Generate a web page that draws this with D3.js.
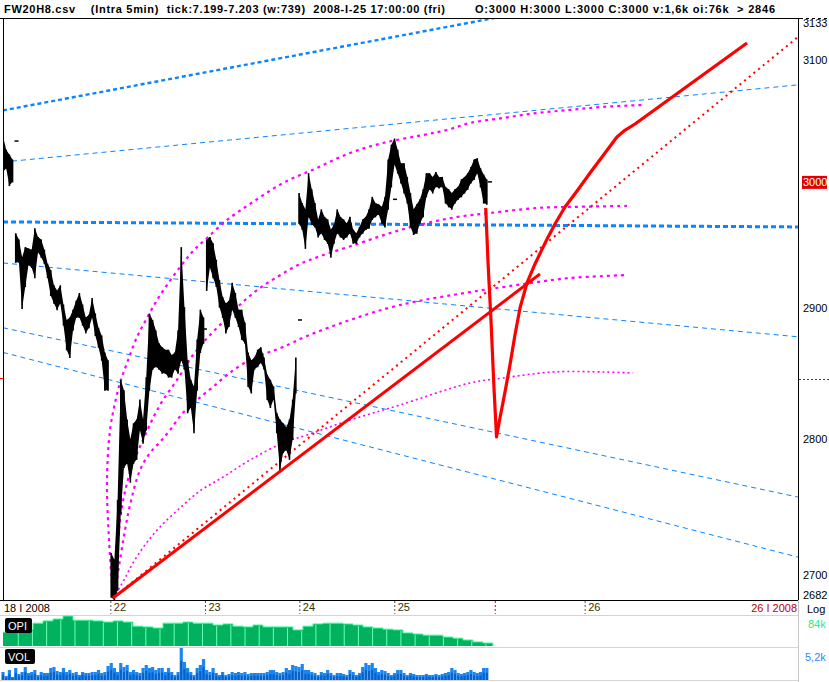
<!DOCTYPE html>
<html><head><meta charset="utf-8">
<script src="https://cdn.jsdelivr.net/npm/d3@7"></script>
<style>
body{margin:0;background:#fff}
svg{display:block}
text{font-family:"Liberation Sans",Arial,sans-serif}
</style>
</head><body>
<svg id="c" width="829" height="682"></svg>
<script>
// ---------------- DATA ----------------
const headerLeft = "FW20H8.csv    (Intra 5min)  tick:7.199-7.203 (w:739)  2008-I-25 17:00:00 (fri)";
const headerRight = "O:3000 H:3000 L:3000 C:3000 v:1,6k oi:76k  > 2846";
// bars: time origin (session days, 0 = start of 22 I) and step of one sample
const barT0 = -1.131, barStep = 1 / 30;
const priceHigh = [3037,3026,3022,3018,
 2959,2954,2940,2948,2947,2946,2963,2956,2954,2946,2935,2930,2918,2914,2918,2903,2891,2893,2899,2906,2912,2903,2893,2895,2908,2896,2885,2879,2866,2860,
 2716,2711,2755,2845,2837,2815,2800,2812,2815,2830,2815,2847,2896,2891,2883,2873,2870,2868,2868,2864,2866,2883,2948,2901,2860,2845,2840,2876,2899,2893,
 2954,2956,2951,2938,2922,2909,2904,2906,2920,2912,2899,2899,2889,2866,2860,2862,2868,2870,2862,2849,2845,2840,2820,2815,2812,2809,2815,2830,2862,
 2991,2983,2978,3007,2994,2983,2970,2978,2972,2970,2962,2966,2978,2972,2970,2967,2972,2962,2959,2964,2970,2972,2978,2988,2983,2982,2980,2988,3018,3030,3035,
 3026,3015,3015,3004,2991,2978,2982,2986,2994,3007,3007,3004,3008,3004,3004,2996,2994,2991,2994,2996,3002,3004,3007,3012,3018,3019,3011,3006,3002];
const priceLow = [3008,3011,2997,3000,
 2936,2936,2900,2917,2934,2932,2924,2944,2940,2935,2924,2910,2904,2899,2904,2887,2868,2862,2883,2893,2893,2887,2881,2885,2893,2879,2870,2860,2837,2837,
 2684,2682,2689,2745,2779,2782,2768,2782,2785,2807,2797,2807,2837,2853,2855,2853,2850,2850,2847,2847,2853,2850,2860,2853,2820,2824,2805,2837,2866,2873,
 2914,2932,2924,2917,2901,2893,2881,2886,2899,2893,2886,2876,2873,2840,2835,2853,2855,2858,2853,2830,2824,2830,2805,2777,2790,2792,2785,2800,2835,
 2967,2962,2947,2972,2966,2964,2956,2959,2954,2951,2940,2951,2959,2956,2954,2956,2959,2951,2951,2956,2959,2962,2963,2970,2972,2974,2967,2964,2978,2996,3014,
 3007,2999,2991,2983,2964,2958,2959,2967,2972,2988,2994,2991,2996,2995,2996,2983,2980,2978,2983,2986,2988,2991,2994,2999,3002,3007,2996,2983,2982];
// indices where a price gap opens a new session block
const sessionBreaks = [0, 4, 34, 64, 93, 153];
const volume = [1300,650,1630,490,1950,980,1300,2110,1140,1300,
 1630,810,1300,1140,1140,1950,2110,1460,1300,1950,
 1300,1630,1140,1300,810,1300,1140,1140,1300,1300,
 1630,1140,1300,2280,2760,1950,1300,2760,2110,2440,
 1300,1630,1300,1140,1950,2440,1950,2110,1630,1950,
 1950,1300,1950,1300,810,1300,5200,2930,1950,1300,
 810,1950,2440,3410,1630,1300,1950,1140,810,1300,
 810,980,1300,1140,1300,1140,1300,980,1140,1140,
 1140,1140,1140,1300,1630,1630,1300,1140,1300,1950,
 1630,2440,2280,2110,2600,1630,1630,1300,1140,810,
 1300,1140,1630,1140,810,1140,1140,980,810,1630,
 1300,810,1140,2110,2760,2440,2760,1950,1300,1630,
 1460,1140,810,1140,1630,1630,1140,810,1140,980,
 810,810,810,980,810,810,980,810,980,1140,
 1300,1950,1630,1140,980,1140,1300,1630,1300,1140,
 1300,1950,1950];
const opiT0 = -1.131, opiStep = 0.1047;
const openInterest = [79.7,79.7,80.3,82.1,82.7,83.2,84.0,82.9,82.9,82.7,82.4,82.7,82.4,81.3,81.1,80.8,82.1,82.1,82.4,82.1,
 82.1,81.6,81.9,81.3,81.1,81.6,81.1,81.1,81.1,80.3,81.3,81.9,82.1,82.1,81.9,81.6,81.1,80.8,80.5,80.3,
 79.5,79.2,78.9,78.9,78.4,78.1,77.6,77.1,76.8,76.0];
const settleT = [-1.010, 0.963, 1.958, 2.953, 3.948];
const settleP = [3033, 2884, 2891, 2986, 3000];
const priceTicks = [3133, 3100, 3000, 2900, 2800, 2700, 2682];
const dayLabels = ["22", "23", "24", "25", "26"];
const dayStarts = [-0.007, 0.984, 1.972, 2.966, 4.960];
const lastBarT = 4.024;
const markPrice = 2846;
// trend lines [t1, p1, t2, p2]
const blueThick = [[-1.131, 3058, 7.194, 3183], [-1.131, 2968, 7.194, 2964]];
const blueThin = [[-1.131, 3016, 7.194, 3079], [-1.131, 2935.5, 7.194, 2878], [-1.131, 2885, 7.194, 2757], [-1.131, 2866, 7.194, 2713]];
const redSolid = [0.021, 2683.4, 4.492, 2926.8];
const redDotted = [0.021, 2683.4, 7.194, 3118.8];
// projected path
const projT = [3.924,3.948,3.979,4.010,4.037,4.073,4.126,4.178,4.230,4.283,4.356,4.440,4.545,4.649,4.754,4.880,5.016,5.173,5.298,5.372,5.487,6.660];
const projP = [2979.1,2936.2,2891.0,2839.6,2801.8,2816.0,2835.8,2856.4,2879.4,2900.3,2919.8,2934.7,2951.2,2966.3,2979.9,2992.7,3007.1,3023.3,3036.3,3041.2,3046.9,3113.8];
// magenta arcs
const arcA = [[0.021,2684.2],[-0.021,2725.5],[-0.042,2769.6],[-0.010,2807.0],[0.042,2827.4],[0.094,2842.6],[0.168,2857.9],[0.272,2877.8],[0.377,2892.5],[0.482,2906.5],[0.586,2918.2],[0.723,2932.3],[0.859,2944.9],[1.005,2955.2],[1.215,2969.5],[1.487,2983.9],[1.801,2999.1],[2.157,3011.2],[2.503,3023.3],[2.848,3031.4],[3.267,3037.9],[3.518,3042.0],[3.759,3047.7],[4.105,3051.8],[4.461,3055.9],[4.806,3058.4],[5.152,3060.9],[5.592,3062.5]];
const arcB = [[0.031,2687.8],[0.063,2718.2],[0.115,2749.7],[0.168,2767.4],[0.230,2782.3],[0.335,2799.5],[0.440,2816.0],[0.545,2829.7],[0.691,2844.9],[0.859,2864.0],[1.037,2879.4],[1.215,2892.5],[1.382,2905.0],[1.560,2915.9],[1.770,2925.9],[1.979,2934.7],[2.188,2940.8],[2.576,2950.4],[2.921,2959.1],[3.267,2966.3],[3.623,2971.9],[3.969,2975.1],[4.461,2979.1],[4.806,2979.9],[5.403,2980.7]];
const arcC = [[0.042,2687.8],[0.094,2710.9],[0.147,2732.8],[0.199,2751.1],[0.304,2777.1],[0.408,2789.8],[0.513,2798.0],[0.618,2807.0],[0.754,2820.0],[0.901,2829.7],[1.068,2839.6],[1.246,2850.5],[1.455,2860.2],[1.634,2865.6],[1.801,2870.1],[2.052,2878.6],[2.503,2891.0],[3.026,2902.6],[3.759,2912.7],[4.105,2916.6],[4.461,2920.5],[4.806,2923.7],[5.403,2926.0]];
const arcD = [[0.052,2686.3],[0.147,2697.9],[0.230,2708.7],[0.356,2721.9],[0.513,2735.0],[0.723,2749.0],[0.932,2761.6],[1.173,2771.8],[1.455,2784.5],[1.801,2797.3],[2.052,2803.3],[2.503,2814.5],[3.026,2825.9],[3.759,2842.6],[4.105,2846.4],[4.628,2851.0],[5.152,2851.0],[5.466,2850.2]];

// ---------------- LAYOUT ----------------
const L = 3, R = 798, T = 18, B = 600;
const svg = d3.select("#c");
const x = d3.scaleLinear().domain([-1.131, 7.194]).range([L, R]);
const y = d3.scaleLog().domain([2682, 3133]).range([B, 20]);
const opiY = d3.scaleLinear().domain([76, 84]).range([646, 616]);
const volY = d3.scaleLinear().domain([0, 5200]).range([680, 648]);
const barX = i => x(barT0 + i * barStep);

svg.append("defs").append("clipPath").attr("id", "plot")
  .append("rect").attr("x", L).attr("y", T + 1).attr("width", R - L).attr("height", B - T - 1);

// header
svg.append("text").attr("x", 4).attr("y", 13).attr("font-size", 11).attr("font-weight", "bold")
  .style("white-space", "pre").attr("textLength", 441).attr("lengthAdjust", "spacing").text(headerLeft);
svg.append("text").attr("x", 475).attr("y", 13).attr("font-size", 11).attr("font-weight", "bold")
  .style("white-space", "pre").attr("textLength", 300).attr("lengthAdjust", "spacing").text(headerRight);
svg.append("line").attr("x1", 0).attr("x2", 800).attr("y1", T + 0.5).attr("y2", T + 0.5).attr("stroke", "#000");
svg.append("line").attr("x1", 800).attr("x2", 829).attr("y1", T + 0.5).attr("y2", T + 0.5).attr("stroke", "#000").attr("stroke-dasharray", "3,3");

const plot = svg.append("g").attr("clip-path", "url(#plot)");
const seg = (g, d) => g.append("line").attr("x1", x(d[0])).attr("y1", y(d[1])).attr("x2", x(d[2])).attr("y2", y(d[3]));

// blue trend lines
blueThin.forEach(d => seg(plot, d).attr("stroke", "#0a84ff").attr("stroke-width", 1).attr("stroke-dasharray", "5,4"));
seg(plot, blueThick[0]).attr("stroke", "#0a84ff").attr("stroke-width", 2.4).attr("stroke-dasharray", "4,3");
seg(plot, blueThick[1]).attr("stroke", "#0a84ff").attr("stroke-width", 3).attr("stroke-dasharray", "5,3");

// magenta arcs
const arcLine = d3.line().x(d => x(d[0])).y(d => y(d[1])).curve(d3.curveCatmullRom);
[arcA, arcB, arcC].forEach(a => plot.append("path").attr("d", arcLine(a)).attr("fill", "none")
  .attr("stroke", "#ff00ff").attr("stroke-width", 2.2).attr("stroke-dasharray", "3,4"));
plot.append("path").attr("d", arcLine(arcD)).attr("fill", "none")
  .attr("stroke", "#ff00ff").attr("stroke-width", 1.6).attr("stroke-dasharray", "2,3");

// red dotted
seg(plot, redDotted).attr("stroke", "#ff0000").attr("stroke-width", 2).attr("stroke-dasharray", "2,4");

// price: band per session block + individual high-low bars
const band = d3.area().x(i => barX(i)).y0(i => y(priceLow[i])).y1(i => y(priceHigh[i]));
for (let s = 0; s < sessionBreaks.length - 1; s++) {
  plot.append("path").attr("d", band(d3.range(sessionBreaks[s], sessionBreaks[s + 1])))
    .attr("fill", "#000");
}
plot.append("g").selectAll("line").data(priceHigh).join("line")
  .attr("x1", (d, i) => barX(i)).attr("x2", (d, i) => barX(i))
  .attr("y1", d => y(d)).attr("y2", (d, i) => y(priceLow[i]) + 0.5)
  .attr("stroke", "#000").attr("stroke-width", 1.6);
plot.append("g").selectAll("line").data(settleT).join("line")
  .attr("x1", d => x(d)).attr("x2", d => x(d) + 4)
  .attr("y1", (d, i) => y(settleP[i])).attr("y2", (d, i) => y(settleP[i]))
  .attr("stroke", "#000").attr("stroke-width", 1.5);

// red thick
seg(plot, redSolid).attr("stroke", "#ff0000").attr("stroke-width", 3);
plot.append("path").attr("d", d3.line().x(d => x(d)).y((d, i) => y(projP[i]))(projT))
  .attr("fill", "none").attr("stroke", "#ff0000").attr("stroke-width", 3.2).attr("stroke-linejoin", "round");

// frame
svg.append("line").attr("x1", L + 0.5).attr("x2", L + 0.5).attr("y1", T).attr("y2", B).attr("stroke", "#000");
svg.append("line").attr("x1", 0).attr("x2", R + 1).attr("y1", B + 0.5).attr("y2", B + 0.5).attr("stroke", "#000");
svg.append("line").attr("x1", R + 0.5).attr("x2", R + 0.5).attr("y1", T).attr("y2", B).attr("stroke", "#000");
svg.append("line").attr("x1", R + 0.5).attr("x2", R + 0.5).attr("y1", B).attr("y2", 682).attr("stroke", "#c8c8c8");
[615.5, 647.5, 680.5].forEach(v => svg.append("line").attr("x1", 0).attr("x2", R).attr("y1", v).attr("y2", v).attr("stroke", "#d4d4d4"));

// marker price
svg.append("line").attr("x1", 0).attr("x2", 3).attr("y1", y(markPrice)).attr("y2", y(markPrice)).attr("stroke", "#ff0000");
svg.append("line").attr("x1", R + 1).attr("x2", 829).attr("y1", Math.round(y(markPrice)) + 0.5).attr("y2", Math.round(y(markPrice)) + 0.5)
  .attr("stroke", "#e00000").attr("stroke-dasharray", "2,2");

// right price axis
const yAxis = svg.append("g").attr("transform", `translate(${R + 4},0)`)
  .call(d3.axisRight(y).tickValues(priceTicks).tickSize(0).tickPadding(0).tickFormat(d3.format("d")));
yAxis.select(".domain").remove();
yAxis.selectAll(".tick text").attr("font-size", 11).attr("font-family", "Liberation Sans, Arial, sans-serif")
  .attr("fill", "#000").attr("x", 1);
yAxis.selectAll(".tick").filter(d => d === 3133).select("text").attr("dy", "0.95em").attr("y", -y(3133) + 16);
yAxis.selectAll(".tick").filter(d => d === 2682).select("text").attr("y", -5);
const t3000 = yAxis.selectAll(".tick").filter(d => d === 3000);
t3000.insert("rect", "text").attr("x", 0).attr("y", -6.5).attr("width", 25).attr("height", 13).attr("fill", "#e00000");
t3000.select("text").attr("fill", "#fff");

// date axis
const xAxis = svg.append("g").attr("transform", `translate(0,${B + 1})`)
  .call(d3.axisBottom(x).tickValues(dayStarts).tickSize(13).tickFormat((d, i) => dayLabels[i]));
xAxis.select(".domain").remove();
xAxis.selectAll(".tick line").attr("stroke", "#555").attr("stroke-dasharray", "2,2");
xAxis.selectAll(".tick text").attr("font-size", 11).attr("font-family", "Liberation Sans, Arial, sans-serif")
  .attr("fill", "#333300").attr("text-anchor", "start").attr("x", 3).attr("y", 2).attr("dy", "0.71em");
svg.append("line").attr("x1", x(lastBarT)).attr("x2", x(lastBarT)).attr("y1", B + 1).attr("y2", B + 14)
  .attr("stroke", "#e00000").attr("stroke-dasharray", "2,2");
svg.append("text").attr("x", 4).attr("y", 612).attr("font-size", 11).attr("fill", "#000").text("18 I 2008");
svg.append("text").attr("x", 797).attr("y", 612).attr("font-size", 11).attr("fill", "#c00000").attr("text-anchor", "end").text("26 I 2008");
svg.append("text").attr("x", 807).attr("y", 613).attr("font-size", 11).attr("fill", "#000").text("Log");

// OPI panel
const opiArea = d3.area().x((d, i) => x(opiT0 + i * opiStep)).y0(646).y1(d => opiY(d)).curve(d3.curveStepAfter);
svg.append("path").attr("d", opiArea(openInterest)).attr("fill", "#00b25e");
svg.append("path").attr("d", d3.line().x((d, i) => x(opiT0 + i * opiStep)).y(d => opiY(d)).curve(d3.curveStepAfter)(openInterest))
  .attr("fill", "none").attr("stroke", "#3dff9a").attr("stroke-width", 1);
const opiEnd = opiT0 + (openInterest.length - 1) * opiStep;
d3.range(-0.971, opiEnd, 0.1484).forEach(t => {
  const k = Math.min(openInterest.length - 1, Math.floor((t - opiT0) / opiStep));
  svg.append("line").attr("x1", x(t)).attr("x2", x(t)).attr("y1", opiY(openInterest[k]) + 1).attr("y2", 646)
    .attr("stroke", "#6affb5").attr("stroke-width", 1);
});
svg.append("rect").attr("x", 5).attr("y", 618).attr("width", 27).attr("height", 15).attr("rx", 2).attr("fill", "#000");
svg.append("text").attr("x", 8).attr("y", 630).attr("font-size", 11).attr("fill", "#fff").text("OPI");
svg.append("text").attr("x", 808).attr("y", 628).attr("font-size", 11).attr("fill", "#22ee88").text("84k");

// VOL panel
const bw = x(barStep) - x(0);
svg.append("g").selectAll("rect").data(volume).join("rect")
  .attr("x", (d, i) => barX(i) - bw / 2).attr("width", bw)
  .attr("y", d => volY(d)).attr("height", d => 680 - volY(d)).attr("fill", "#1a86f0");
svg.append("g").selectAll("rect").data(volume).join("rect")
  .attr("x", (d, i) => barX(i) - bw / 2 + 0.6).attr("width", bw - 1.2)
  .attr("y", d => volY(d * 0.6)).attr("height", d => 680 - volY(d * 0.6)).attr("fill", "#0a5fc4");
svg.append("rect").attr("x", 5).attr("y", 649).attr("width", 30).attr("height", 15).attr("rx", 2).attr("fill", "#000");
svg.append("text").attr("x", 8).attr("y", 661).attr("font-size", 11).attr("fill", "#fff").text("VOL");
svg.append("text").attr("x", 805).attr("y", 661).attr("font-size", 11).attr("fill", "#1e88ff").text("5,2k");
</script>
</body></html>
